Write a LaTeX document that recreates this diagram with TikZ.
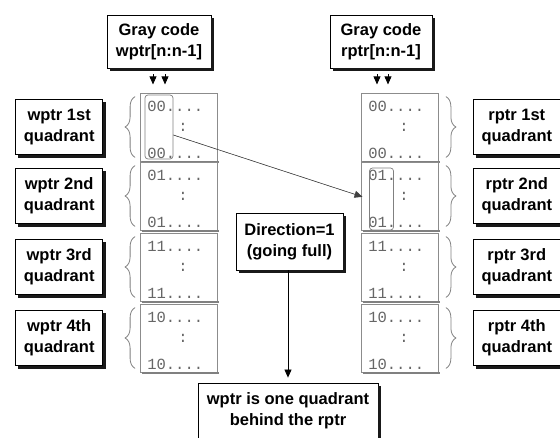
\documentclass[tikz,border=0pt]{standalone}
\usepackage{fontspec}
\setmainfont{Liberation Sans}
\setmonofont{Liberation Mono}
\usetikzlibrary{arrows.meta, positioning, decorations.pathreplacing}

\begin{document}
\begin{tikzpicture}[
  x=1pt, y=-1pt,
  every node/.style={font=\fontsize{16.5}{21}\selectfont\bfseries},
  box/.style={rectangle, draw=black, fill=white, line width=0.8pt, align=center, inner sep=2pt},
  quad/.style={box, minimum width=87pt, minimum height=55pt},
  memblk/.style={rectangle, draw=black!45, fill=white, line width=0.8pt,
                 minimum width=77pt, minimum height=68pt},
  memtxt/.style={font=\fontsize{15.5}{16}\selectfont\ttfamily, text=black!60, inner sep=0pt},
  hilite/.style={rectangle, draw=black!50, rounded corners=3pt, line width=0.7pt, inner sep=0pt},
  grp/.style={decorate, decoration={brace, amplitude=10pt}, draw=black!50, line width=0.8pt},
  ptr/.style={-{Triangle[length=8pt, width=7pt]}, line width=0.8pt},
  boxshadow/.style={draw=black!90, line width=3pt},
  memshadow/.style={draw=black!50, line width=1.6pt}
]
  \useasboundingbox (0,0) rectangle (560,438);

  % memory columns, one block per quadrant
  \foreach \i/\c/\y in {1/00/127, 2/01/196, 3/11/267, 4/10/338}{
    \foreach \s/\x in {w/179, r/400}{
      \node[memblk] (\s\i) at (\x,\y) {};
      \draw[memshadow] ([xshift=2pt,yshift=-0.8pt]\s\i.south west) -- ([xshift=0.8pt,yshift=-0.8pt]\s\i.south east);
      \node[memtxt, anchor=west] (\s top\i) at ([xshift=7pt,yshift=-14pt]\s\i.north west) {\c....};
      \node[memtxt] (\s dots\i) at ([xshift=4pt]\s\i.center) {:};
      \node[memtxt, anchor=west] (\s bot\i) at ([xshift=7pt,yshift=8pt]\s\i.south west) {\c....};
    }
  }

  % quadrant labels and braces
  \foreach \i/\o in {1/1st, 2/2nd, 3/3rd, 4/4th}{
    \node[quad, left=37pt of w\i] (wl\i) {wptr \o\\quadrant};
    \draw[boxshadow] ([xshift=3pt,yshift=-1.5pt]wl\i.south west) -| ([xshift=1.5pt,yshift=-3pt]wl\i.north east);
    \node[quad, right=34pt of r\i] (rl\i) {rptr \o\\quadrant};
    \draw[boxshadow] ([xshift=3pt,yshift=-1.5pt]rl\i.south west) -| ([xshift=1.5pt,yshift=-3pt]rl\i.north east);
    \draw[grp] ([xshift=-5pt,yshift=4pt]w\i.south west) -- ([xshift=-5pt,yshift=-4pt]w\i.north west);
    \draw[grp] ([xshift=7pt,yshift=-4pt]r\i.north east) -- ([xshift=7pt,yshift=4pt]r\i.south east);
  }

  \node[box, minimum width=104pt, minimum height=53pt] (gw) at (159,41.5) {Gray code\\wptr[n:n-1]};
  \draw[boxshadow] ([xshift=3pt,yshift=-1.5pt]gw.south west) -| ([xshift=1.5pt,yshift=-3pt]gw.north east);
  \node[box, minimum width=102pt, minimum height=53pt] (gr) at (381,41.5) {Gray code\\rptr[n:n-1]};
  \draw[boxshadow] ([xshift=3pt,yshift=-1.5pt]gr.south west) -| ([xshift=1.5pt,yshift=-3pt]gr.north east);

  \foreach \n/\dx in {gw/-6, gw/6, gr/-4, gr/7}{
    \draw[ptr] ([xshift=\dx pt,yshift=-6pt]\n.south) -- ([xshift=\dx pt,yshift=-16pt]\n.south);
  }

  % the two MSB fields
  \node[hilite, minimum width=28pt, minimum height=64pt] (hlw) at (159,127) {};
  \node[hilite, minimum width=24pt, minimum height=62pt] (hlr) at (381.5,199) {};
  \draw[ptr, draw=black!75, fill=black!75, line width=0.6pt, shorten >=7pt] ([yshift=-8pt]hlw.east) -- (hlr.west);

  \node[box, minimum width=107pt, minimum height=57pt] (dir) at (289.5,241.5) {Direction=1\\(going full)};
  \draw[boxshadow] ([xshift=3pt,yshift=-1.5pt]dir.south west) -| ([xshift=1.5pt,yshift=-3pt]dir.north east);
  \node[box, minimum width=180pt, minimum height=55pt] (behind) at (288,410.5) {wptr is one quadrant\\behind the rptr};
  \draw[boxshadow] ([xshift=3pt,yshift=-1.5pt]behind.south west) -| ([xshift=1.5pt,yshift=-3pt]behind.north east);
  \draw[ptr, shorten >=5pt] (behind.north |- dir.south) -- (behind.north);
\end{tikzpicture}
\end{document}
